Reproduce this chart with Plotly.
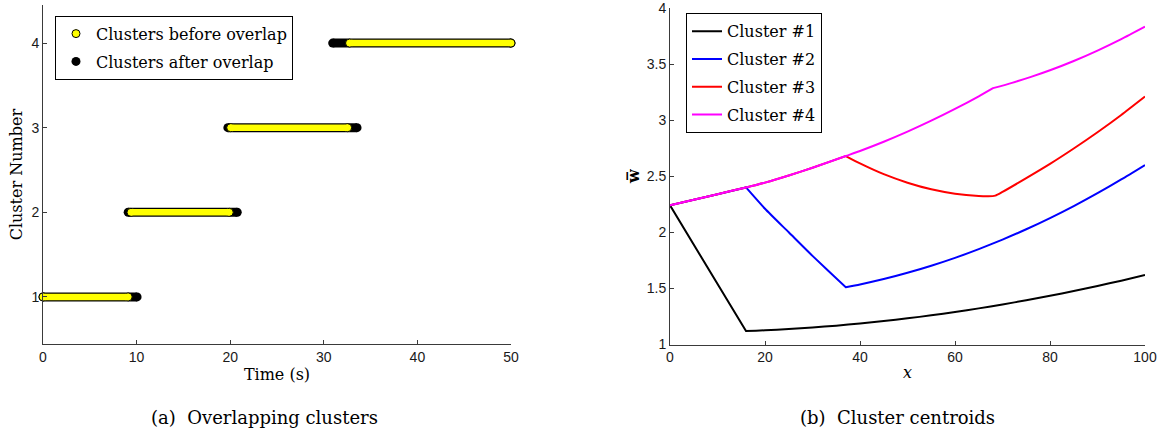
import plotly.graph_objects as go

# ---- Panel (a): time span (s) of each cluster, before / after the overlap step
cluster_ids = [1, 2, 3, 4]
before_start = [0.0, 9.4, 20.05, 32.75]
before_end = [9.1, 19.9, 32.55, 50.0]
after_start = [0.0, 9.1, 19.75, 30.95]
after_end = [10.05, 20.75, 33.55, 50.0]

# ---- Panel (b): centroid trajectories
c1_x = [0, 16, 20, 25, 30, 35, 40, 45, 50, 55, 60, 65, 70, 75, 80, 85, 90, 95, 100]
c1_y = [2.24, 1.12, 1.127, 1.138, 1.152, 1.168, 1.187, 1.209, 1.233, 1.26, 1.29, 1.322,
        1.357, 1.394, 1.434, 1.476, 1.522, 1.569, 1.62]

c2_x = [0, 5, 10, 16, 20, 25, 30, 37, 40, 45, 50, 55, 60, 65, 70, 75, 80, 85, 90, 95, 100]
c2_y = [2.24, 2.29, 2.34, 2.40, 2.21, 2.00, 1.79, 1.51, 1.535, 1.583, 1.639, 1.702, 1.772,
        1.85, 1.935, 2.027, 2.127, 2.234, 2.349, 2.471, 2.60]

c3_x = [0, 5, 10, 16, 20, 25, 30, 37, 40, 45, 50, 55, 60, 65, 67, 68.5, 70, 75, 80,
        85, 90, 95, 100]
c3_y = [2.24, 2.29, 2.34, 2.40, 2.443, 2.506, 2.575, 2.68, 2.614, 2.518, 2.442, 2.383,
        2.344, 2.323, 2.3205, 2.327, 2.36, 2.483, 2.61, 2.747, 2.892, 3.046, 3.21]

c4_x = [0, 5, 10, 16, 20, 25, 30, 37, 40, 45, 50, 55, 60, 65, 68, 72, 76, 80, 85, 90,
        95, 100]
c4_y = [2.24, 2.29, 2.34, 2.40, 2.443, 2.506, 2.575, 2.68, 2.725, 2.8075, 2.8975, 2.995,
        3.10, 3.2125, 3.285, 3.332, 3.385, 3.444, 3.527, 3.62, 3.722, 3.833]

# x positions where a trajectory changes direction abruptly
c1_breaks = [16]
c2_breaks = [16, 37]
c3_breaks = [37]
c4_breaks = [68]

left_xticks = [0, 10, 20, 30, 40, 50]
left_yticks = [1, 2, 3, 4]
right_xticks = [0, 20, 40, 60, 80, 100]
right_yticks = [1, 1.5, 2, 2.5, 3, 3.5, 4]
right_yticktext = ["1", "1.5", "2", "2.5", "3", "3.5", "4"]

W, H = 1166, 434
SERIF = "DejaVu Serif"
SANS = "Liberation Sans, Arial, sans-serif"
AXIS_COLOR = "#3a3a3a"
TICK_COLOR = "#1a1a1a"


def spans(starts, ends):
    xs, ys = [], []
    for c, s, e in zip(cluster_ids, starts, ends):
        xs += [s, e, None]
        ys += [c, c, None]
    return xs, ys


def with_corners(xs, ys, breaks):
    # repeating a vertex stops the spline from rounding it off
    ox, oy = [], []
    for x, y in zip(xs, ys):
        ox.append(x)
        oy.append(y)
        if x in breaks:
            ox.append(x)
            oy.append(y)
    return ox, oy


fig = go.Figure()

ax_x, ax_y = spans(after_start, after_end)
bf_x, bf_y = spans(before_start, before_end)

# black bands (after overlap) underneath, yellow bands (before overlap) on top
fig.add_trace(go.Scatter(x=ax_x, y=ax_y, mode="lines", line=dict(color="black", width=9),
                         showlegend=False, hoverinfo="skip", xaxis="x", yaxis="y"))
fig.add_trace(go.Scatter(x=ax_x, y=ax_y, mode="markers", name="Clusters after overlap",
                         marker=dict(color="black", size=9, line=dict(width=0)),
                         cliponaxis=False, legend="legend", legendgroup="after",
                         legendrank=2, xaxis="x", yaxis="y"))
fig.add_trace(go.Scatter(x=bf_x, y=bf_y, mode="markers", name="Clusters before overlap",
                         marker=dict(color="#ffff00", size=8, line=dict(color="black", width=1)),
                         cliponaxis=False, legend="legend", legendgroup="before",
                         legendrank=1, xaxis="x", yaxis="y"))
fig.add_trace(go.Scatter(x=bf_x, y=bf_y, mode="lines", line=dict(color="#ffff00", width=6.5),
                         showlegend=False, hoverinfo="skip", xaxis="x", yaxis="y"))

series = [
    ("Cluster #1", c1_x, c1_y, c1_breaks, "#000000"),
    ("Cluster #2", c2_x, c2_y, c2_breaks, "#0000ff"),
    ("Cluster #3", c3_x, c3_y, c3_breaks, "#ff0000"),
    ("Cluster #4", c4_x, c4_y, c4_breaks, "#ff00ff"),
]
for name, xs, ys, brk, col in series:
    px_, py_ = with_corners(xs, ys, brk)
    fig.add_trace(go.Scatter(x=px_, y=py_, mode="lines", name=name,
                             line=dict(color=col, width=2, shape="spline", smoothing=0.6,
                                       simplify=False),
                             legend="legend2", legendgroup=name, xaxis="x2", yaxis="y2"))

axis_common = dict(
    showline=True, linecolor=AXIS_COLOR, linewidth=1, mirror=False,
    ticks="inside", ticklen=4, tickwidth=1, tickcolor=AXIS_COLOR,
    showgrid=False, zeroline=False, tickmode="array", automargin=False,
    ticklabeloverflow="allow",
    tickfont=dict(family=SANS, size=14, color=TICK_COLOR),
)
title_font = dict(family=SERIF, size=16, color="black")
legend_common = dict(
    xanchor="left", yanchor="top", bgcolor="white", bordercolor="black",
    borderwidth=1, font=dict(family=SERIF, size=16, color="black"),
    tracegroupgap=4, traceorder="grouped",
)

fig.update_layout(
    template="none",
    width=W, height=H, margin=dict(l=0, r=0, t=0, b=0, pad=0), autosize=False,
    paper_bgcolor="white", plot_bgcolor="white", hovermode=False,
    xaxis=dict(domain=[43 / W, 511 / W], range=[0, 50], tickvals=left_xticks,
               anchor="y", title=dict(text="Time (s)", font=title_font, standoff=4),
               **axis_common),
    yaxis=dict(domain=[1 - 344.3 / H, 1 - 5 / H], range=[0.44, 4.45], tickvals=left_yticks,
               anchor="x", title=dict(text="Cluster Number", font=title_font, standoff=4),
               **axis_common),
    xaxis2=dict(domain=[670 / W, 1145 / W], range=[0, 100.0001], tickvals=right_xticks,
                anchor="y2", title=dict(text="<i>x</i>", font=title_font, standoff=2),
                **axis_common),
    yaxis2=dict(domain=[1 - 344.5 / H, 1 - 7.9 / H], range=[1, 4.0001], tickvals=right_yticks,
                ticktext=right_yticktext, anchor="x2",
                title=dict(text="<b>w\u0305</b>", font=title_font, standoff=3),
                **axis_common),
    legend=dict(x=55 / W, y=1 - 15.7 / H, **legend_common),
    legend2=dict(x=686 / W, y=1 - 13.3 / H, **legend_common),
    annotations=[
        dict(text="(a)\u00a0\u00a0Overlapping clusters", x=264 / W, y=1 - 417 / H,
             xref="paper", yref="paper", showarrow=False, xanchor="center",
             yanchor="middle", font=dict(family=SERIF, size=18, color="black")),
        dict(text="(b)\u00a0\u00a0Cluster centroids", x=897 / W, y=1 - 417 / H,
             xref="paper", yref="paper", showarrow=False, xanchor="center",
             yanchor="middle", font=dict(family=SERIF, size=18, color="black")),
    ],
)

fig.write_html("out.html")
